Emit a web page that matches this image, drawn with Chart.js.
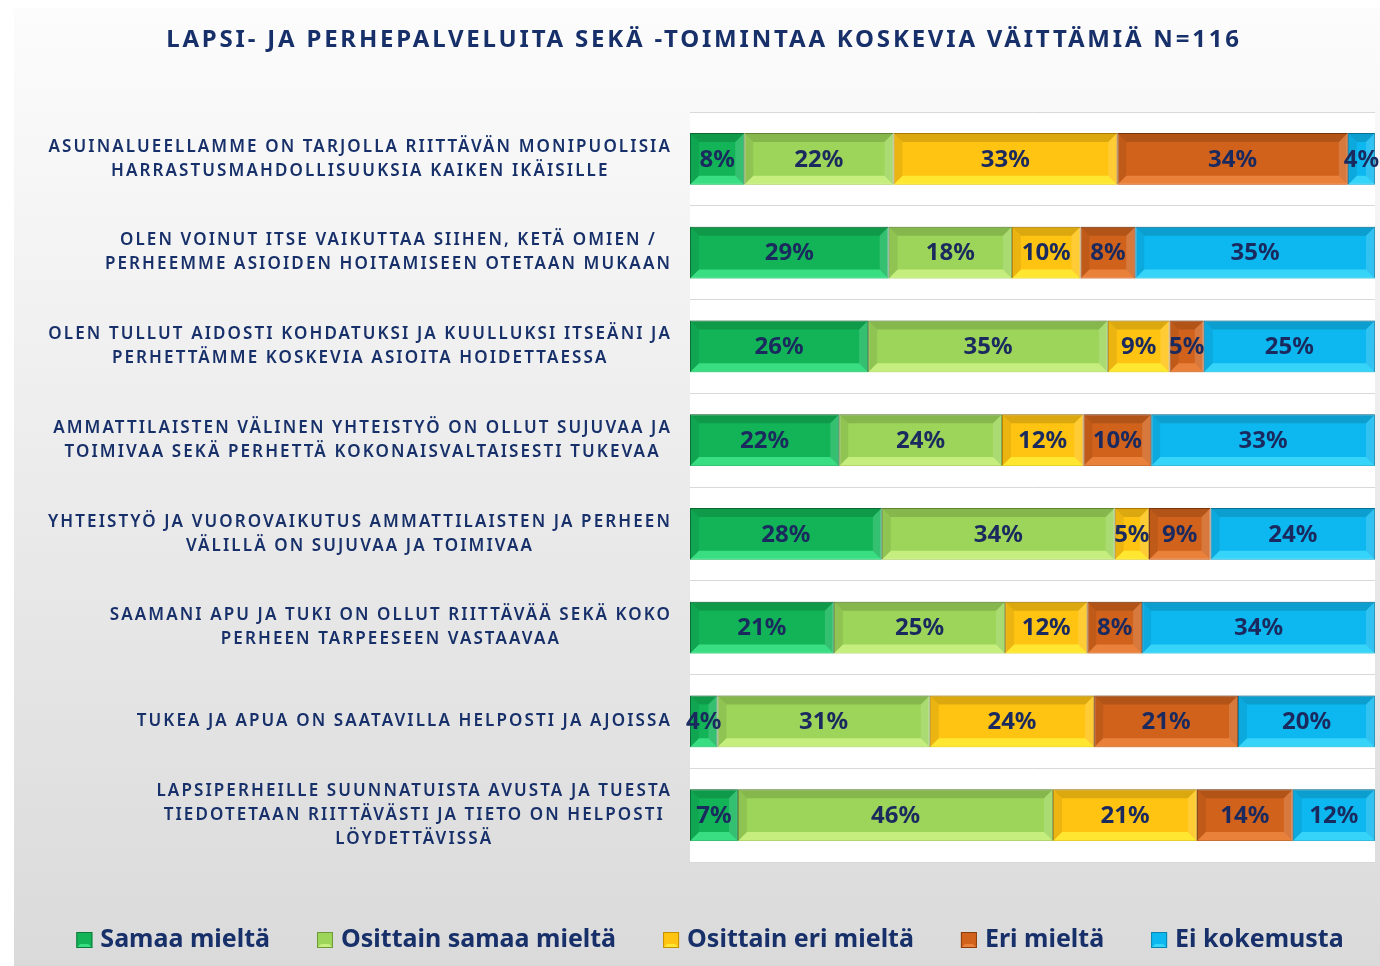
<!DOCTYPE html>
<html>
<head>
<meta charset="utf-8">
<script src="https://cdn.jsdelivr.net/npm/chart.js@4.4.1/dist/chart.umd.min.js"></script>
<style>
  html, body { margin: 0; padding: 0; background: #fff; }
  #wrap { width: 1380px; height: 966px; position: relative; }
</style>
</head>
<body>
<div id="wrap"><canvas id="chart"></canvas></div>
<script>
const chartTitle = 'LAPSI- JA PERHEPALVELUITA SEKÄ -TOIMINTAA KOSKEVIA VÄITTÄMIÄ N=116';

// statements, already split into the lines used in the picture
const statements = [
  ['ASUINALUEELLAMME ON TARJOLLA RIITTÄVÄN MONIPUOLISIA', 'HARRASTUSMAHDOLLISUUKSIA KAIKEN IKÄISILLE'],
  ['OLEN VOINUT ITSE VAIKUTTAA SIIHEN, KETÄ OMIEN /', 'PERHEEMME ASIOIDEN HOITAMISEEN OTETAAN MUKAAN'],
  ['OLEN TULLUT AIDOSTI KOHDATUKSI JA KUULLUKSI ITSEÄNI JA', 'PERHETTÄMME KOSKEVIA ASIOITA HOIDETTAESSA'],
  ['AMMATTILAISTEN VÄLINEN YHTEISTYÖ ON OLLUT SUJUVAA JA', 'TOIMIVAA SEKÄ PERHETTÄ KOKONAISVALTAISESTI TUKEVAA'],
  ['YHTEISTYÖ JA VUOROVAIKUTUS AMMATTILAISTEN JA PERHEEN', 'VÄLILLÄ ON SUJUVAA JA TOIMIVAA'],
  ['SAAMANI APU JA TUKI ON OLLUT RIITTÄVÄÄ SEKÄ KOKO', 'PERHEEN TARPEESEEN VASTAAVAA'],
  ['TUKEA JA APUA ON SAATAVILLA HELPOSTI JA AJOISSA'],
  ['LAPSIPERHEILLE SUUNNATUISTA AVUSTA JA TUESTA', 'TIEDOTETAAN RIITTÄVÄSTI JA TIETO ON HELPOSTI', 'LÖYDETTÄVISSÄ']
];

const seriesNames = ['Samaa mieltä', 'Osittain samaa mieltä', 'Osittain eri mieltä', 'Eri mieltä', 'Ei kokemusta'];

// percentages per statement (top to bottom)
const samaaMielta = [8, 29, 26, 22, 28, 21, 4, 7];
const osittainSamaa = [22, 18, 35, 24, 34, 25, 31, 46];
const osittainEri = [33, 10, 9, 12, 5, 12, 24, 21];
const eriMielta = [34, 8, 5, 10, 9, 8, 21, 14];
const eiKokemusta = [4, 35, 25, 33, 24, 34, 20, 12];

const seriesValues = [samaaMielta, osittainSamaa, osittainEri, eriMielta, eiKokemusta];

const fills = ['#12b457', '#9cd55a', '#ffc412', '#d0621c', '#0db8f0'];
const borders = ['#0e7a3a', '#6e9a3a', '#c48f00', '#8a3d0c', '#0a84ae'];
const glows = ['rgba(90,255,165,0.55)', 'rgba(225,255,150,0.6)', 'rgba(255,255,70,0.6)', 'rgba(255,155,85,0.55)', 'rgba(90,235,255,0.55)'];

const navy = '#17306a';
const labelFont = '"Noto Sans", "DejaVu Sans", sans-serif';

// 100% stacked: each row scaled to its own total (labels keep the rounded values)
const rowTotals = statements.map((_, i) => seriesValues.reduce((s, arr) => s + arr[i], 0));

const datasets = seriesNames.map((name, k) => ({
  label: name,
  data: seriesValues[k].map((v, i) => v / rowTotals[i] * 100),
  backgroundColor: fills[k],
  borderColor: borders[k],
  borderWidth: 1,
  borderSkipped: false,
  barPercentage: 0.55,
  categoryPercentage: 1
}));

function poly(ctx, pts, color) {
  ctx.beginPath();
  ctx.moveTo(pts[0][0], pts[0][1]);
  for (let i = 1; i < pts.length; i++) ctx.lineTo(pts[i][0], pts[i][1]);
  ctx.closePath();
  ctx.fillStyle = color;
  ctx.fill();
}

// grey frame and white plot area
const backdrop = {
  id: 'backdrop',
  beforeDraw(chart) {
    const { ctx, width, height, chartArea: a } = chart;
    ctx.save();
    ctx.fillStyle = '#fff';
    ctx.fillRect(0, 0, width, height);
    const g = ctx.createLinearGradient(0, 8, 0, height);
    g.addColorStop(0, '#fcfcfc');
    g.addColorStop(1, '#dadada');
    ctx.fillStyle = g;
    ctx.fillRect(14, 8, width - 14, height - 8);
    ctx.fillStyle = '#fff';
    ctx.fillRect(a.left, a.top, a.right - a.left, a.bottom - a.top);
    ctx.restore();
  }
};

// bevel look + value labels on the bars
const barDecor = {
  id: 'barDecor',
  afterDatasetsDraw(chart) {
    const ctx = chart.ctx;
    ctx.save();
    chart.data.datasets.forEach((ds, di) => {
      const meta = chart.getDatasetMeta(di);
      meta.data.forEach(bar => {
        const l = Math.min(bar.x, bar.base), r = Math.max(bar.x, bar.base);
        const t = bar.y - bar.height / 2, b = bar.y + bar.height / 2;
        const e = Math.min(9, (r - l) / 2, bar.height / 2);
        poly(ctx, [[l, t], [r, t], [r - e, t + e], [l + e, t + e]], 'rgba(0,0,0,0.14)');
        poly(ctx, [[l, b], [r, b], [r - e, b - e], [l + e, b - e]], glows[di]);
        poly(ctx, [[l, t], [l + e, t + e], [l + e, b - e], [l, b]], 'rgba(0,0,0,0.08)');
        poly(ctx, [[r, t], [r - e, t + e], [r - e, b - e], [r, b]], 'rgba(255,255,255,0.15)');
      });
    });
    ctx.font = 'bold 24px ' + labelFont;
    ctx.fillStyle = '#1a2a5e';
    ctx.textAlign = 'center';
    ctx.textBaseline = 'middle';
    chart.data.datasets.forEach((ds, di) => {
      chart.getDatasetMeta(di).data.forEach((bar, i) => {
        ctx.fillText(seriesValues[di][i] + '%', (bar.x + bar.base) / 2, bar.y + 1);
      });
    });
    ctx.restore();
  }
};

// title, statement labels and legend
const texts = {
  id: 'texts',
  afterDraw(chart) {
    const ctx = chart.ctx, yScale = chart.scales.y, a = chart.chartArea;
    ctx.save();
    ctx.fillStyle = navy;
    ctx.textBaseline = 'middle';

    ctx.font = 'bold 24px ' + labelFont;
    ctx.letterSpacing = '2.8px';
    ctx.textAlign = 'center';
    ctx.fillText(chartTitle, 704, 40);

    ctx.font = '600 17px ' + labelFont;
    ctx.letterSpacing = '2.1px';
    const right = a.left - 18;
    statements.forEach((lines, i) => {
      const cy = yScale.getPixelForTick(i);
      const w = Math.max(...lines.map(s => ctx.measureText(s).width));
      lines.forEach((s, k) => ctx.fillText(s, right - w / 2, cy + (k - (lines.length - 1) / 2) * 24));
    });

    // legend
    ctx.letterSpacing = '0px';
    ctx.font = 'bold 25px ' + labelFont;
    ctx.textAlign = 'left';
    const box = 16, gapBox = 8, gapItem = 47, ly = 940;
    const widths = seriesNames.map(s => ctx.measureText(s).width);
    const total = widths.reduce((s, w) => s + w + box + gapBox, 0) + gapItem * (seriesNames.length - 1);
    let x = 710 - total / 2;
    seriesNames.forEach((s, k) => {
      ctx.fillStyle = fills[k];
      ctx.fillRect(x, ly - box / 2, box, box);
      poly(ctx, [[x, ly + box / 2], [x + box, ly + box / 2], [x + box - 4, ly + box / 2 - 4], [x + 4, ly + box / 2 - 4]], glows[k]);
      ctx.strokeStyle = borders[k];
      ctx.lineWidth = 1;
      ctx.strokeRect(x + 0.5, ly - box / 2 + 0.5, box - 1, box - 1);
      ctx.fillStyle = navy;
      ctx.fillText(s, x + box + gapBox, ly);
      x += box + gapBox + widths[k] + gapItem;
    });
    ctx.restore();
  }
};

new Chart(document.getElementById('chart').getContext('2d'), {
  type: 'bar',
  data: { labels: statements, datasets: datasets },
  options: {
    indexAxis: 'y',
    responsive: true,
    maintainAspectRatio: false,
    animation: false,
    layout: { padding: { left: 14, top: 112, right: 5, bottom: 104 } },
    plugins: {
      legend: { display: false },
      title: { display: false },
      tooltip: { enabled: false }
    },
    scales: {
      x: { stacked: true, display: false, min: 0, max: 100 },
      y: {
        stacked: true,
        grid: { display: true, offset: true, color: '#d9d9d9', drawTicks: false },
        border: { display: false },
        ticks: { display: false },
        afterFit(scale) { scale.width = 676; }
      }
    }
  },
  plugins: [backdrop, barDecor, texts]
});
</script>
</body>
</html>
